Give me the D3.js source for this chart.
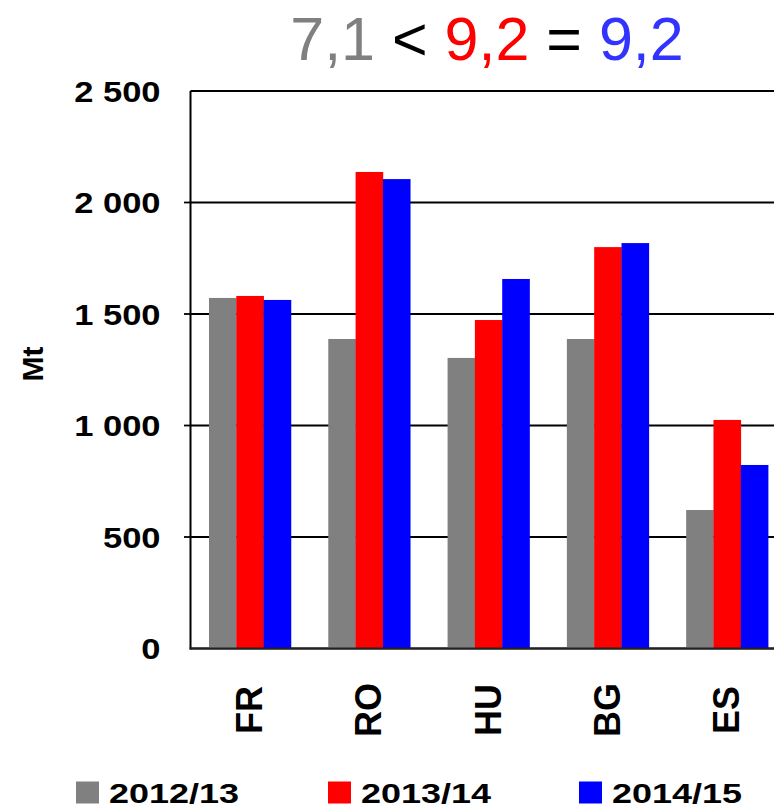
<!DOCTYPE html>
<html>
<head>
<meta charset="utf-8">
<script src="https://cdn.jsdelivr.net/npm/d3@7"></script>
<style>
  html, body { margin: 0; padding: 0; background: #fff; }
  svg { display: block; }
  text { font-family: "Liberation Sans", Arial, sans-serif; }
</style>
</head>
<body>
<svg id="chart" width="774" height="809"></svg>
<script>
const categories = ["FR", "RO", "HU", "BG", "ES"];
const seriesNames = ["2012/13", "2013/14", "2014/15"];
const seriesColors = ["#808080", "#ff0000", "#0000ff"];
const values2012 = [1572, 1388, 1303, 1388, 621];
const values2013 = [1581, 2137, 1473, 1800, 1025];
const values2014 = [1563, 2105, 1657, 1818, 823];
const yTicks = [0, 500, 1000, 1500, 2000, 2500];
const titleParts = [
  { text: "7,1", color: "#808080" },
  { text: " < ", color: "#000000" },
  { text: "9,2", color: "#ff0000" },
  { text: " = ", color: "#000000" },
  { text: "9,2", color: "#3333ff" }
];
const yLabel = "Mt";

const seriesValues = [values2012, values2013, values2014];

const svg = d3.select("#chart");
const fmt = d3.formatLocale({ decimal: ",", thousands: " ", grouping: [3], currency: ["", ""] }).format(",d");

const plotLeft = 190.5, plotRight = 786.6, plotTop = 91, plotBottom = 648.5;

const x0 = d3.scaleBand().domain(categories).range([plotLeft, plotRight]).paddingInner(0.313).paddingOuter(0.155);
const x1 = d3.scaleBand().domain(seriesNames).range([0, x0.bandwidth()]).padding(0);
const y = d3.scaleLinear().domain([0, 2500]).range([plotBottom, plotTop]);

// gridlines
svg.append("g").selectAll("line").data(yTicks).join("line")
  .attr("x1", plotLeft).attr("x2", 774)
  .attr("y1", d => y(d)).attr("y2", d => y(d))
  .attr("stroke", "#000").attr("stroke-width", 1.8);

// tick marks to the left
svg.append("g").selectAll("line").data(yTicks.filter(d => d > 0 && d < 2500)).join("line")
  .attr("x1", plotLeft - 6.5).attr("x2", plotLeft)
  .attr("y1", d => y(d)).attr("y2", d => y(d))
  .attr("stroke", "#000").attr("stroke-width", 1.8);

// bars
const groups = svg.append("g").selectAll("g").data(categories).join("g")
  .attr("transform", c => `translate(${x0(c)},0)`);
groups.selectAll("rect")
  .data((c, i) => seriesNames.map((s, j) => ({ s, j, v: seriesValues[j][i] })))
  .join("rect")
  .attr("x", d => x1(d.s))
  .attr("width", x1.bandwidth() + 0.3)
  .attr("y", d => y(d.v))
  .attr("height", d => y(0) - y(d.v))
  .attr("fill", d => seriesColors[d.j]);

// axes lines
svg.append("line").attr("x1", plotLeft).attr("x2", plotLeft).attr("y1", plotTop).attr("y2", plotBottom + 1)
  .attr("stroke", "#000").attr("stroke-width", 2);
svg.append("line").attr("x1", plotLeft - 1).attr("x2", 774).attr("y1", plotBottom).attr("y2", plotBottom)
  .attr("stroke", "#222").attr("stroke-width", 2.2);

// y tick labels
svg.append("g").selectAll("g").data(yTicks).join("g")
  .attr("transform", d => `translate(160.5,${y(d)}) scale(1.15,1)`)
  .append("text")
  .attr("text-anchor", "end")
  .attr("dy", "0.36em")
  .attr("font-size", 30).attr("font-weight", "bold").attr("fill", "#000")
  .text(d => fmt(d));

// y axis label
svg.append("text")
  .attr("transform", "translate(32,364) rotate(-90)")
  .attr("text-anchor", "middle").attr("dy", "0.36em")
  .attr("font-size", 30).attr("font-weight", "bold")
  .text(yLabel);

// x labels
svg.append("g").selectAll("text").data(categories).join("text")
  .attr("transform", c => `translate(${x0(c) + x0.bandwidth() / 2 - 1},${710}) rotate(-90)`)
  .attr("text-anchor", "middle").attr("dy", "0.36em")
  .attr("font-size", 36).attr("font-weight", "bold")
  .text(c => c);

// title
const title = svg.append("text")
  .attr("x", 487).attr("y", 60)
  .attr("text-anchor", "middle")
  .attr("font-size", 61)
  .style("white-space", "pre");
title.selectAll("tspan").data(titleParts).join("tspan")
  .attr("fill", d => d.color)
  .text(d => d.text);

// legend
const legendX = [76, 328, 579];
const leg = svg.append("g").selectAll("g").data(seriesNames).join("g")
  .attr("transform", (d, i) => `translate(${legendX[i]},0)`);
leg.append("rect").attr("x", 0).attr("y", 781.5).attr("width", 23).attr("height", 22)
  .attr("fill", (d, i) => seriesColors[i]);
leg.append("text")
  .attr("x", 33).attr("y", 802.5)
  .attr("font-size", 27).attr("font-weight", "bold")
  .attr("textLength", 130).attr("lengthAdjust", "spacingAndGlyphs")
  .text(d => d);
</script>
</body>
</html>
